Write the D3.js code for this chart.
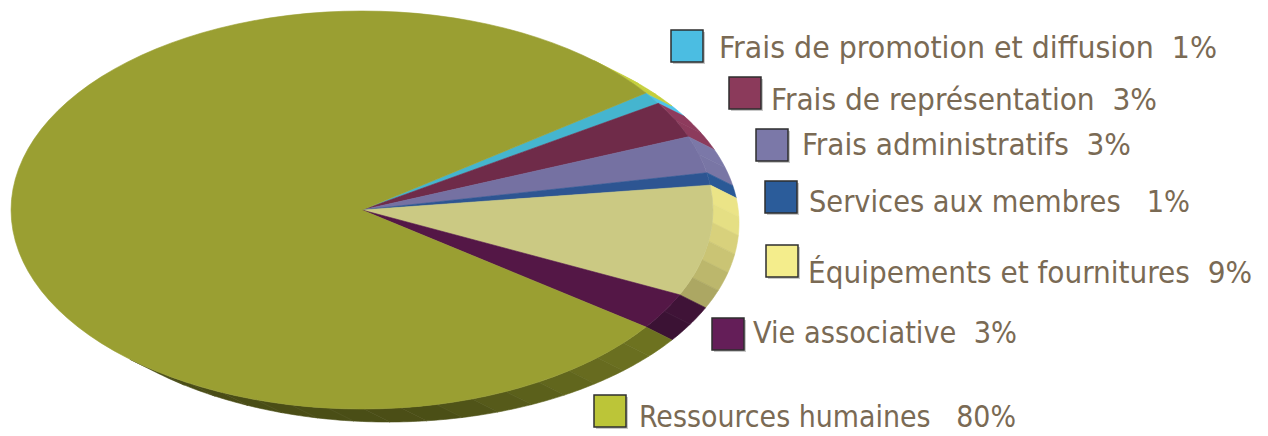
<!DOCTYPE html>
<html>
<head>
<meta charset="utf-8">
<script src="https://cdn.jsdelivr.net/npm/d3@7"></script>
<style>
  html, body { margin: 0; padding: 0; background: #fff; }
  #app { width: 1268px; height: 436px; overflow: hidden; }
  text { white-space: pre; }
</style>
</head>
<body>
<div id="app"></div>
<script>
// data
var categories = ["Frais de promotion et diffusion", "Frais de représentation", "Frais administratifs",
  "Services aux membres", "Équipements et fournitures", "Vie associative", "Ressources humaines"];
var values = [1, 3, 3, 1, 9, 3, 80];
var gaps = [2, 2, 2, 3, 2, 2, 3];   // spaces between label and percent

// colours (legend / top face)
var baseColors = ["#4bbde2", "#8b3a5b", "#7b78a8", "#2b5c9a", "#f4ed8c", "#641e58", "#bcc538"];
var topColors = ["#45b5cf", "#6f2b49", "#7571a2", "#2d5592", "#cbc983", "#541746", "#9a9f32"];

// legend layout: swatch x, swatch y, text x, baseline, text width
var legendLayout = [
  [671, 30, 719, 58, 498],
  [729, 77, 771, 110, 386],
  [756, 129, 802, 155, 329],
  [765, 181, 809, 212, 381],
  [766, 245, 808, 283, 444],
  [712, 318, 753, 343, 264],
  [594, 395, 639, 427, 377]
];

var width = 1268, height = 436;
var cx = 362, cy = 210, rx = 351, ry = 199;
var dx = 26, dy = 13;   // oblique depth of the pie

var svg = d3.select("#app")
  .append("svg")
    .attr("width", width)
    .attr("height", height);

var rad = Math.PI / 180;
var pie = d3.pie()
  .sort(null)
  .startAngle(54 * rad)
  .endAngle(414 * rad);
var arcs = pie(values);

// point on the top ellipse for a d3 angle
function pt(a, off) {
  return [cx + rx * Math.sin(a) + (off ? dx : 0), cy - ry * Math.cos(a) + (off ? dy : 0)];
}

// wall shading by angle (degrees from 3 o'clock)
var shade = d3.scaleLinear()
  .domain([-50, -40, 0, 20, 30, 50, 80, 140])
  .range([1.05, 1.05, 0.95, 0.74, 0.6, 0.55, 0.4, 0.38])
  .clamp(true);

function shadeColor(c, f) {
  var c0 = d3.rgb(c);
  return d3.rgb(Math.min(255, c0.r * f), Math.min(255, c0.g * f), Math.min(255, c0.b * f)).formatHex();
}

// visible part of the outer wall
var phi = Math.atan2(dy * rx, dx * ry);
var visible = [[phi, phi + Math.PI], [phi + 2 * Math.PI, phi + 3 * Math.PI]];

var line = d3.line();
var walls = svg.append("g").attr("class", "walls");

arcs.forEach(function(d, i) {
  visible.forEach(function(v) {
    var s = Math.max(d.startAngle, v[0]);
    var e = Math.min(d.endAngle, v[1]);
    if (e <= s) return;
    var n = Math.max(1, Math.ceil((e - s) / (6 * rad)));
    for (var k = 0; k < n; k++) {
      var a0 = s + (e - s) * k / n;
      var a1 = s + (e - s) * (k + 1) / n;
      var steps = d3.range(0, 9).map(function(j) { return a0 + (a1 - a0) * j / 8; });
      var pts = steps.map(function(a) { return pt(a, false); })
        .concat(steps.slice().reverse().map(function(a) { return pt(a, true); }));
      var mid = ((a0 + a1) / 2) / rad - 90;
      if (mid > 180) mid -= 360;
      var col = shadeColor(baseColors[i], shade(mid));
      walls.append("path")
        .attr("d", line(pts) + "Z")
        .attr("fill", col)
        .attr("stroke", col)
        .attr("stroke-width", 0.6);
    }
  });
});

// top face
var arcGen = d3.arc().innerRadius(0).outerRadius(1);
svg.append("g")
  .attr("transform", "translate(" + cx + "," + cy + ") scale(" + rx + "," + ry + ")")
  .selectAll("path")
  .data(arcs)
  .join("path")
    .attr("d", arcGen)
    .attr("fill", function(d, i) { return topColors[i]; })
    .attr("stroke", function(d, i) { return topColors[i]; })
    .attr("stroke-width", 0.6)
    .attr("vector-effect", "non-scaling-stroke");

// legend
var legend = svg.append("g").attr("class", "legend");
var items = legend.selectAll("g")
  .data(categories)
  .join("g");

items.append("rect")
  .attr("x", function(d, i) { return legendLayout[i][0] + 2; })
  .attr("y", function(d, i) { return legendLayout[i][1] + 2; })
  .attr("width", 32)
  .attr("height", 32)
  .attr("fill", "#c8c8c8");

items.append("rect")
  .attr("x", function(d, i) { return legendLayout[i][0]; })
  .attr("y", function(d, i) { return legendLayout[i][1]; })
  .attr("width", 32)
  .attr("height", 32)
  .attr("fill", function(d, i) { return baseColors[i]; })
  .attr("stroke", "#2e2e2e")
  .attr("stroke-width", 1.5);

items.append("text")
  .attr("x", function(d, i) { return legendLayout[i][2]; })
  .attr("y", function(d, i) { return legendLayout[i][3]; })
  .attr("textLength", function(d, i) { return legendLayout[i][4]; })
  .attr("lengthAdjust", "spacingAndGlyphs")
  .attr("font-family", "'DejaVu Sans Condensed', 'DejaVu Sans', sans-serif")
  .attr("font-size", 30)
  .attr("fill", "#7a6a54")
  .text(function(d, i) { return d + " ".repeat(gaps[i]) + values[i] + "%"; });
</script>
</body>
</html>
